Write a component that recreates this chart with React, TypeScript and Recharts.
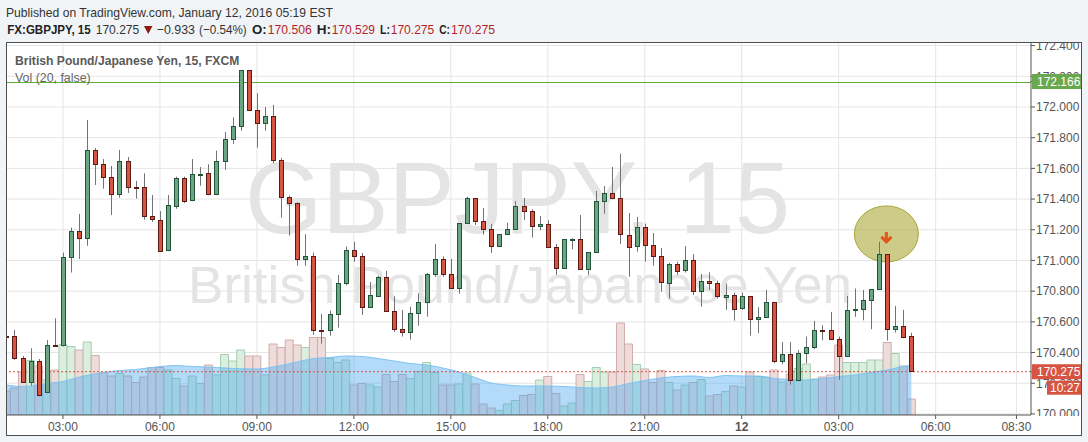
import React from "react";
import {
  ComposedChart,
  Bar,
  Area,
  XAxis,
  YAxis,
  CartesianGrid,
  ReferenceLine,
  ReferenceDot,
  Cell,
} from "recharts";

// GBPJPY 15 min bars, 01:15 Jan 11 -> 05:15 Jan 12 (index 0..112)
const opens = [
  170.510, 170.508, 170.363, 170.207, 170.343, 170.139, 170.450, 170.446, 171.021, 171.190,
  171.145, 171.720, 171.627, 171.542, 171.429, 171.646, 171.478, 171.476, 171.288, 171.266,
  171.064, 171.360, 171.537, 171.390, 171.562, 171.568, 171.429, 171.646, 171.790, 171.874,
  172.239, 171.979, 171.894, 171.939, 171.655, 171.414, 171.373, 171.008, 171.027, 170.546,
  170.545, 170.650, 170.851, 171.066, 171.027, 170.695, 170.771, 170.893, 170.669, 170.552,
  170.530, 170.656, 170.728, 170.910, 171.008, 170.910, 170.819, 171.242, 171.405, 171.255,
  171.203, 171.093, 171.171, 171.203, 171.353, 171.321, 171.223, 171.236, 171.086, 170.949,
  171.137, 171.138, 170.940, 171.053, 171.383, 171.438, 171.405, 171.168, 171.090, 171.216,
  171.099, 171.027, 170.855, 170.977, 170.934, 171.001, 170.797, 170.864, 170.851, 170.764,
  170.775, 170.686, 170.767, 170.617, 170.630, 170.728, 170.343, 170.389, 170.220, 170.395,
  170.435, 170.546, 170.545, 170.487, 170.378, 170.676, 170.682, 170.741, 170.812, 171.040,
  170.552, 170.571, 170.506,
];
const highs = [
  170.515, 170.547, 170.378, 170.428, 170.358, 170.482, 170.623, 171.051, 171.214, 171.303,
  171.915, 171.733, 171.661, 171.616, 171.720, 171.674, 171.518, 171.568, 171.427, 171.322,
  171.427, 171.546, 171.546, 171.661, 171.609, 171.627, 171.715, 171.837, 171.933, 172.241,
  172.241, 172.089, 172.000, 172.013, 171.668, 171.422, 171.379, 171.171, 171.051, 170.651,
  170.673, 170.906, 171.090, 171.121, 171.049, 170.860, 170.899, 170.932, 170.767, 170.678,
  170.699, 170.786, 170.919, 171.108, 171.027, 171.010, 171.242, 171.416, 171.405, 171.342,
  171.238, 171.171, 171.246, 171.388, 171.407, 171.334, 171.290, 171.262, 171.108, 171.138,
  171.145, 171.296, 171.053, 171.453, 171.485, 171.609, 171.696, 171.309, 171.283, 171.240,
  171.179, 171.081, 170.984, 170.992, 171.094, 171.042, 170.912, 170.923, 170.868, 170.849,
  170.790, 170.790, 170.767, 170.695, 170.808, 170.728, 170.469, 170.469, 170.417, 170.504,
  170.606, 170.578, 170.665, 170.504, 170.769, 170.817, 170.808, 170.812, 171.122, 171.040,
  170.704, 170.678, 170.529,
];
const lows = [
  170.503, 170.352, 170.202, 170.184, 170.115, 170.135, 170.439, 170.440, 170.921, 171.010,
  171.096, 171.492, 171.468, 171.296, 171.409, 171.440, 171.403, 171.266, 171.251, 171.060,
  171.060, 171.337, 171.373, 171.386, 171.487, 171.425, 171.425, 171.590, 171.759, 171.846,
  171.979, 171.735, 171.846, 171.633, 171.279, 171.162, 170.966, 170.966, 170.515, 170.458,
  170.510, 170.562, 170.838, 170.992, 170.645, 170.695, 170.762, 170.669, 170.534, 170.504,
  170.484, 170.575, 170.634, 170.893, 170.893, 170.819, 170.784, 171.242, 171.231, 171.168,
  171.049, 171.093, 171.171, 171.203, 171.264, 171.149, 171.197, 171.086, 170.906, 170.949,
  171.073, 170.940, 170.906, 171.053, 171.305, 171.399, 171.108, 170.894, 171.057, 170.992,
  170.966, 170.797, 170.751, 170.906, 170.921, 170.775, 170.699, 170.808, 170.751, 170.678,
  170.608, 170.678, 170.510, 170.526, 170.630, 170.330, 170.324, 170.191, 170.213, 170.330,
  170.422, 170.480, 170.487, 170.222, 170.378, 170.632, 170.610, 170.552, 170.812, 170.478,
  170.530, 170.493, 170.275,
];
const closes = [
  170.508, 170.363, 170.207, 170.345, 170.119, 170.448, 170.446, 171.021, 171.190, 171.145,
  171.720, 171.627, 171.542, 171.429, 171.646, 171.477, 171.476, 171.288, 171.266, 171.064,
  171.360, 171.540, 171.390, 171.562, 171.566, 171.429, 171.646, 171.790, 171.874, 172.239,
  171.979, 171.894, 171.939, 171.655, 171.412, 171.373, 171.008, 171.027, 170.545, 170.544,
  170.650, 170.851, 171.066, 171.025, 170.695, 170.773, 170.893, 170.669, 170.549, 170.530,
  170.656, 170.730, 170.910, 171.008, 170.910, 170.819, 171.242, 171.405, 171.253, 171.203,
  171.093, 171.171, 171.203, 171.353, 171.321, 171.223, 171.236, 171.086, 170.949, 171.138,
  171.139, 170.940, 171.053, 171.386, 171.438, 171.403, 171.168, 171.090, 171.216, 171.096,
  171.027, 170.855, 170.977, 170.934, 171.001, 170.797, 170.864, 170.851, 170.764, 170.775,
  170.686, 170.767, 170.617, 170.630, 170.728, 170.343, 170.389, 170.220, 170.395, 170.435,
  170.545, 170.544, 170.487, 170.375, 170.676, 170.682, 170.741, 170.812, 171.040, 170.552,
  170.571, 170.497, 170.275,
];
const volumes = [
  480, 540, 860, 1090, 980, 700, 900, 1410, 1370, 1300,
  1460, 1190, 850, 780, 830, 780, 650, 760, 950, 950,
  900, 730, 580, 780, 630, 1000, 800, 1210, 1080, 1300,
  1180, 1180, 800, 1420, 1350, 1500, 1400, 1350, 1550, 1550,
  1130, 1050, 1100, 600, 630, 600, 560, 810, 670, 810,
  730, 870, 1050, 850, 600, 600, 620, 840, 620, 220,
  140, 90, 220, 290, 390, 410, 700, 770, 430, 180,
  240, 810, 670, 950, 860, 860, 1840, 1420, 1010, 920,
  650, 890, 650, 500, 600, 650, 710, 380, 410, 470,
  580, 560, 860, 770, 760, 900, 660, 820, 930, 1020,
  720, 760, 800, 1400, 1050, 1050, 1050, 1100, 1100, 1450,
  1230, 980, 320,
];
// Vol (20) moving average, read at these bars: [bar index, value]
const volMaPoints: [number, number][] = [
  [0, 600], [2, 570], [3, 580], [5, 630], [7, 670], [9, 760], [12, 850], [14, 890],
  [16, 910], [18, 950], [21, 990], [23, 970], [26, 950], [28, 930], [31, 920], [33, 960],
  [34, 990], [36, 1060], [38, 1130], [40, 1150], [42, 1180], [44, 1170], [46, 1130],
  [48, 1080], [50, 1030], [52, 1000], [54, 940], [56, 860], [58, 750], [60, 640],
  [62, 600], [64, 580], [67, 580], [69, 570], [71, 550], [73, 540], [75, 560], [77, 630],
  [79, 690], [81, 740], [83, 770], [85, 780], [87, 750], [89, 790], [91, 780], [93, 780],
  [95, 730], [97, 710], [99, 700], [101, 730], [103, 770], [105, 800], [107, 850],
  [109, 900], [111, 970], [112, 990],
];

const timeTickIndex = [7, 19, 31, 43, 55, 67, 79, 91, 103, 115, 125];
const timeTickLabels = ["03:00", "06:00", "09:00", "12:00", "15:00", "18:00", "21:00", "12", "03:00", "06:00", "08:30"];
const priceTicks = [170.0, 170.2, 170.4, 170.6, 170.8, 171.0, 171.2, 171.4, 171.6, 171.8, 172.0, 172.2, 172.4];
const resistance = 172.166;
const lastPrice = 170.275;
const countdown = "10:27";
const signalBar = 108.9;
const signalPrice = 171.173;

const FONT = "'Liberation Sans', Arial, sans-serif";
const UP = "#6ba583";
const DOWN = "#d75442";
const LEVEL = "#5fae3c";

const maByIndex = new Map(volMaPoints);
const rows = opens.map((o, i) => ({
  i,
  o,
  h: highs[i],
  l: lows[i],
  c: closes[i],
  range: [lows[i], highs[i]],
  vol: volumes[i],
  ma: maByIndex.has(i) ? maByIndex.get(i) : null,
  up: closes[i] >= o,
}));

const Candle = (props: any) => {
  const { x, y, width, height, payload } = props;
  if (x == null || !payload) return null;
  const { o, h, l, c } = payload;
  const k = height / (h - l);
  const cx = Math.floor(x + width / 2) + 0.5;
  const yO = y + (h - o) * k;
  const yC = y + (h - c) * k;
  const top = Math.round(Math.min(yO, yC)) + 0.5;
  const bh = Math.max(Math.round(Math.abs(yO - yC)), 1);
  const up = c >= o;
  return (
    <g>
      <line x1={cx} x2={cx} y1={y} y2={y + height} stroke="#737375" strokeWidth={1} />
      <rect
        x={cx - 2}
        y={top}
        width={4}
        height={bh}
        fill={up ? UP : DOWN}
        stroke={up ? "#225437" : "#5b1a13"}
        strokeWidth={1}
      />
    </g>
  );
};

const SignalMark = (props: any) => {
  const { cx, cy } = props;
  if (cx == null) return null;
  return (
    <g>
      <ellipse cx={cx} cy={cy} rx={32} ry={28} fill="rgb(180,178,80)" fillOpacity={0.68} stroke="#a9a535" strokeWidth={1} />
      <path
        d={`M${cx} ${cy - 2} L${cx} ${cy + 8} M${cx - 5} ${cy + 3} L${cx} ${cy + 8} L${cx + 5} ${cy + 3}`}
        stroke="#e0561c"
        strokeWidth={3}
        fill="none"
      />
    </g>
  );
};

// level line drawn through the chart's own scale (viewBox from the reference line)
const LevelLine = (props: any) => {
  const { x1, x2, y1, y2 } = props;
  if (x1 == null) return null;
  const y = Math.round(y1) + 0.5;
  return <line x1={x1} x2={x2} y1={y} y2={y} stroke={LEVEL} strokeWidth={1} />;
};

const PriceTick = (props: any) => {
  const { x, y, payload } = props;
  const v = payload.value;
  if (v === resistance || v === lastPrice) {
    const bg = v === resistance ? "#6aa84f" : DOWN;
    return (
      <g>
        <rect x={x - 5} y={y - 7.5} width={49} height={15} fill={bg} />
        <text x={x} y={y + 4.3} fill="#fff" fontSize={12} fontFamily={FONT}>
          {v.toFixed(3)}
        </text>
        {v === lastPrice && (
          <g>
            <rect x={x + 10} y={y + 9} width={34} height={14} fill={DOWN} />
            <text x={x + 13} y={y + 20.3} fill="#fff" fontSize={12} fontFamily={FONT}>
              {countdown}
            </text>
          </g>
        )}
      </g>
    );
  }
  return (
    <text x={x - 1} y={y + 4.3} fill="#555" fontSize={12} fontFamily={FONT}>
      {v.toFixed(3)}
    </text>
  );
};

const TimeTick = (props: any) => {
  const { x, y, payload } = props;
  const label = timeTickLabels[timeTickIndex.indexOf(payload.value)];
  return (
    <text
      x={x}
      y={y + 9.5}
      textAnchor="middle"
      fill="#555"
      fontSize={12}
      fontFamily={FONT}
      fontWeight={label === "12" ? "bold" : "normal"}
    >
      {label}
    </text>
  );
};

export default function App() {
  const last = opens.length - 1;
  const red = "#b71f1f";
  return (
    <div style={{ position: "relative", width: 1088, height: 442, background: "#f1f4f7", overflow: "hidden" }}>
      <style>{"body{margin:0;background:#f1f4f7}"}</style>
      <div style={{ position: "absolute", left: 7, top: 43, width: 1074, height: 392, background: "#fff" }} />
      <svg width={1088} height={442} style={{ position: "absolute", left: 0, top: 0 }}>
        <text x={245} y={233} fontSize={102} fontFamily={FONT} fill="#e4e4e4" textLength={545} lengthAdjust="spacingAndGlyphs">
          GBPJPY, 15
        </text>
        <text x={188} y={303} fontSize={51} fontFamily={FONT} fill="#e4e4e4" textLength={664} lengthAdjust="spacingAndGlyphs">
          British Pound/Japanese Yen
        </text>
      </svg>
      <div style={{ position: "absolute", left: 0, top: 0 }}>
        <ComposedChart width={1088} height={442} data={rows} margin={{ top: 43, right: 7, bottom: 7, left: 7 }}>
          <CartesianGrid
            xAxisId="price"
            yAxisId="price"
            stroke="#e5e5e5"
            horizontalValues={priceTicks}
            verticalValues={timeTickIndex}
          />
          <XAxis
            xAxisId="price"
            dataKey="i"
            type="number"
            domain={[0.074, 126.8]}
            allowDataOverflow
            ticks={timeTickIndex}
            interval={0}
            tick={(p: any) => <TimeTick {...p} />}
            tickSize={4}
            tickLine={{ stroke: "#555" }}
            axisLine={{ stroke: "#555" }}
            height={20}
          />
          <XAxis xAxisId="vol" dataKey="i" type="number" domain={[0.074, 126.8]} allowDataOverflow hide />
          <YAxis yAxisId="vol" type="number" domain={[0, 7440]} allowDataOverflow hide />
          <Bar
            xAxisId="vol"
            yAxisId="vol"
            dataKey="vol"
            barSize={8}
            isAnimationActive={false}
            zIndex={50}
          >
            {rows.map((r) => (
              <Cell key={r.i} fill={r.up ? "#dbeedf" : "#eedcdb"} stroke={r.up ? "#a6cdb0" : "#cfadab"} strokeWidth={1} />
            ))}
          </Bar>
          <Area
            xAxisId="vol"
            yAxisId="vol"
            dataKey="ma"
            type="monotone"
            connectNulls
            fill="#4aa8ee"
            fillOpacity={0.42}
            stroke="#7cc3f3"
            strokeWidth={1}
            dot={false}
            activeDot={false}
            isAnimationActive={false}
            zIndex={100}
          />
          <ReferenceLine
            xAxisId="price"
            yAxisId="price"
            y={resistance}
            stroke={LEVEL}
            strokeWidth={1}
            shape={(p: any) => <LevelLine {...p} />}
            zIndex={200}
          />
          <ReferenceLine
            xAxisId="price"
            yAxisId="price"
            y={lastPrice}
            stroke={DOWN}
            strokeDasharray="2 2"
            strokeWidth={1}
            zIndex={200}
          />
          <ReferenceDot
            xAxisId="price"
            yAxisId="price"
            x={signalBar}
            y={signalPrice}
            r={30}
            shape={(p: any) => <SignalMark {...p} />}
            zIndex={250}
          />
          <Bar
            xAxisId="price"
            yAxisId="price"
            dataKey="range"
            barSize={5}
            shape={(p: any) => <Candle {...p} />}
            isAnimationActive={false}
            zIndex={300}
          />
          <YAxis
            yAxisId="price"
            orientation="right"
            type="number"
            domain={[169.993, 172.417]}
            allowDataOverflow
            ticks={[...priceTicks, resistance, lastPrice]}
            interval={0}
            tick={(p: any) => <PriceTick {...p} />}
            tickSize={4}
            tickMargin={2}
            width={50}
            tickLine={{ stroke: "#555" }}
            axisLine={{ stroke: "#555" }}
          />
        </ComposedChart>
      </div>
      <svg width={1088} height={442} style={{ position: "absolute", left: 0, top: 0, pointerEvents: "none" }}>
        <rect x={0} y={0} width={1088} height={42} fill="#f1f4f7" />
        <rect x={1032} y={416} width={49} height={19} fill="#fff" />
        <rect x={6.5} y={42.5} width={1075} height={393} fill="none" stroke="#4f4f4f" strokeWidth={1} />
        <g fontFamily={FONT} fontSize={13}>
          <text x={6} y={17} fill="#333" textLength={327} lengthAdjust="spacingAndGlyphs">
            Published on TradingView.com, January 12, 2016 05:19 EST
          </text>
          <text x={7.3} y={34.3} fill="#222" fontWeight="bold" textLength={83.4} lengthAdjust="spacingAndGlyphs">
            FX:GBPJPY, 15
          </text>
          <text x={95.7} y={34.3} fill="#333" textLength={43.6} lengthAdjust="spacingAndGlyphs">
            {closes[last].toFixed(3)}
          </text>
          <polygon points="144,26 152.5,26 148.2,34" fill="#8b1a14" />
          <text x={156.7} y={34.3} fill="#333" textLength={38.3} lengthAdjust="spacingAndGlyphs">
            −0.933
          </text>
          <text x={199} y={34.3} fill="#333" textLength={47.7} lengthAdjust="spacingAndGlyphs">
            (−0.54%)
          </text>
          <text x={252} y={34.3} fill="#222" fontWeight="bold" textLength={14.7} lengthAdjust="spacingAndGlyphs">O:</text>
          <text x={267.7} y={34.3} fill={red} textLength={44} lengthAdjust="spacingAndGlyphs">{opens[last].toFixed(3)}</text>
          <text x={316.7} y={34.3} fill="#222" fontWeight="bold" textLength={14.3} lengthAdjust="spacingAndGlyphs">H:</text>
          <text x={331.7} y={34.3} fill={red} textLength={43.3} lengthAdjust="spacingAndGlyphs">{highs[last].toFixed(3)}</text>
          <text x={380} y={34.3} fill="#222" fontWeight="bold" textLength={10} lengthAdjust="spacingAndGlyphs">L:</text>
          <text x={390.7} y={34.3} fill={red} textLength={43.6} lengthAdjust="spacingAndGlyphs">{lows[last].toFixed(3)}</text>
          <text x={439.3} y={34.3} fill="#222" fontWeight="bold" textLength={10.7} lengthAdjust="spacingAndGlyphs">C:</text>
          <text x={451} y={34.3} fill={red} textLength={44} lengthAdjust="spacingAndGlyphs">{closes[last].toFixed(3)}</text>
        </g>
        <g fontFamily={FONT} fontSize={12.5}>
          <text x={15} y={65.3} fill="#5a5a5a" fontWeight="bold" textLength={224.3} lengthAdjust="spacingAndGlyphs">
            British Pound/Japanese Yen, 15, FXCM
          </text>
          <text x={15} y={82} fill="#666" textLength={75.7} lengthAdjust="spacingAndGlyphs">
            Vol (20, false)
          </text>
        </g>
      </svg>
    </div>
  );
}
